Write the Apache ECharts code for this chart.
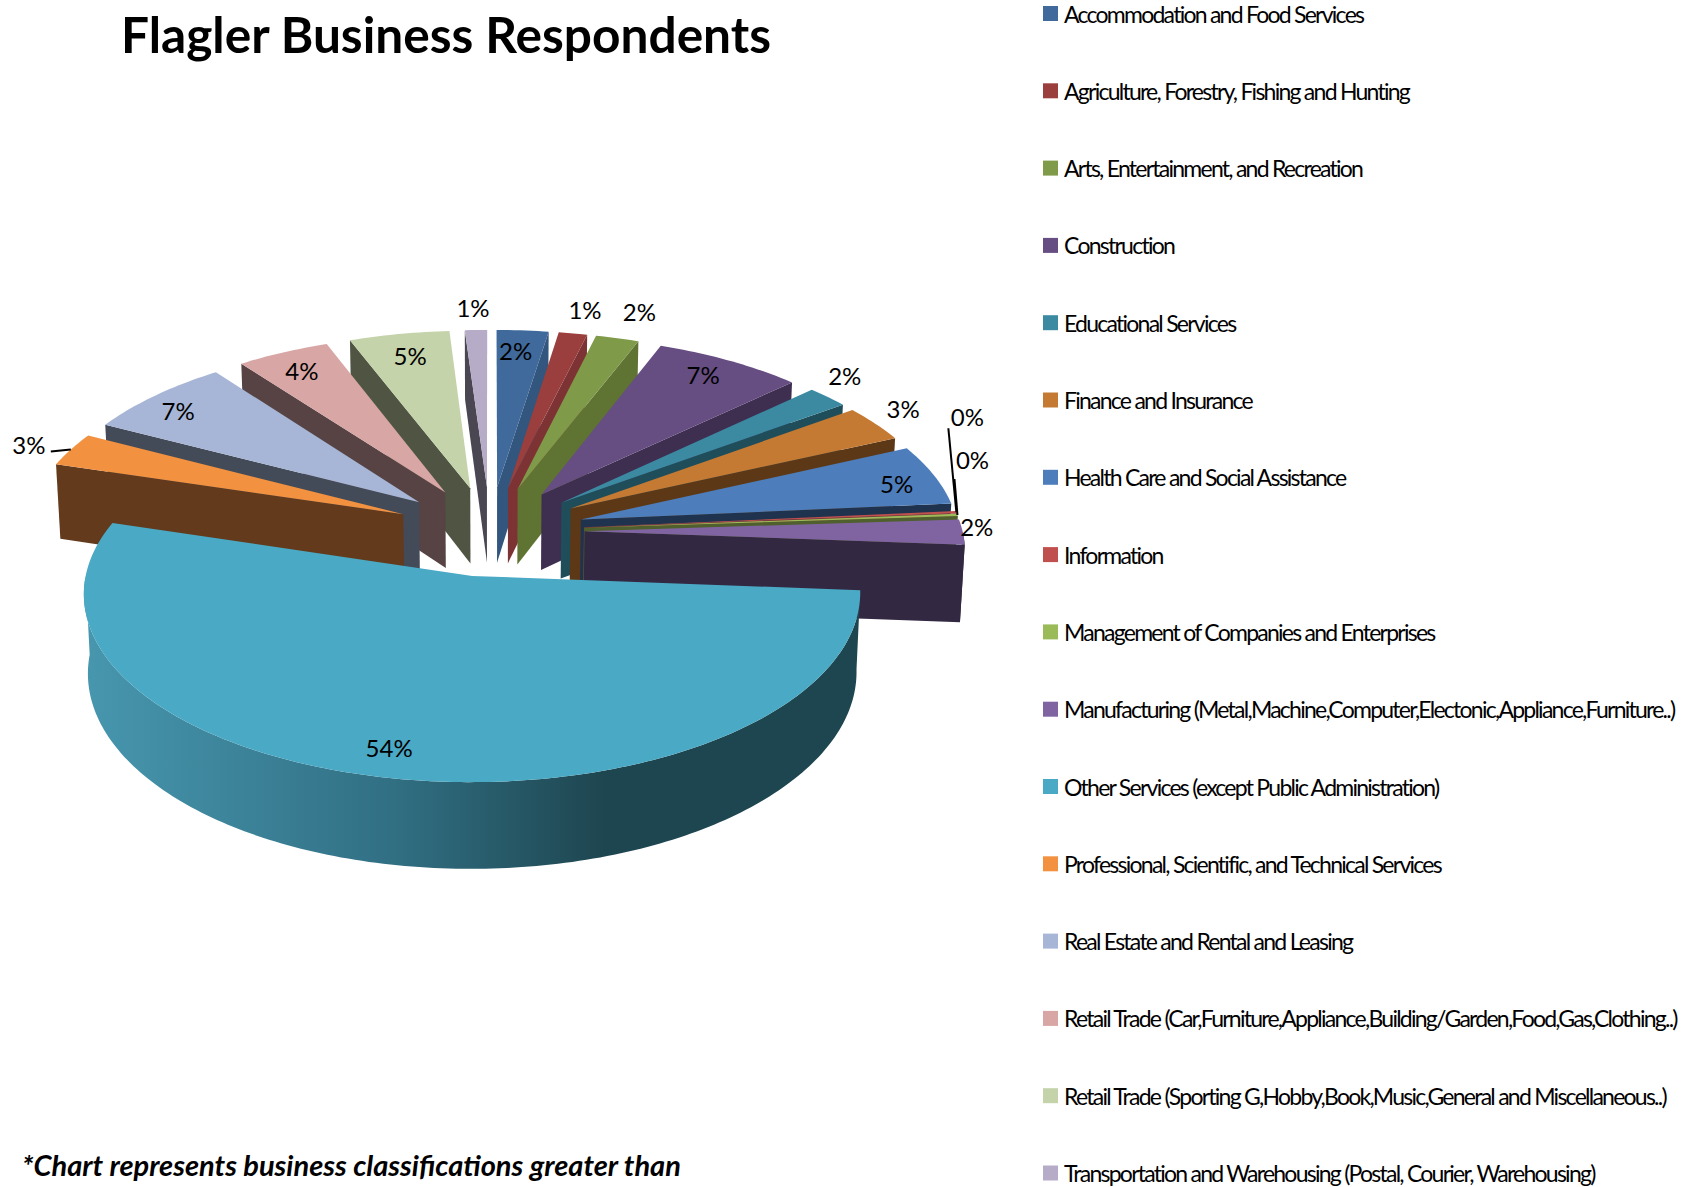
<!DOCTYPE html>
<html>
<head>
<meta charset="utf-8">
<title>Flagler Business Respondents</title>
<style>
  html, body { margin: 0; background: #fff; }
  #chart { width: 1696px; height: 1187px; }
  /* legend text is squeezed in the original */
  svg text[style*="23px"] { letter-spacing: -1.75px; }
</style>
<script src="https://cdn.jsdelivr.net/npm/echarts@6/dist/echarts.min.js"></script>
</head>
<body>
<div id="chart"></div>
<script>
var categories = [
  'Accommodation and Food Services',
  'Agriculture, Forestry, Fishing and Hunting',
  'Arts, Entertainment, and Recreation',
  'Construction',
  'Educational Services',
  'Finance and Insurance',
  'Health Care and Social Assistance',
  'Information',
  'Management of Companies and Enterprises',
  'Manufacturing (Metal,Machine,Computer,Electonic,Appliance,Furniture..)',
  'Other Services (except Public Administration)',
  'Professional, Scientific, and Technical Services',
  'Real Estate and Rental and Leasing',
  'Retail Trade (Car,Furniture,Appliance,Building/Garden,Food,Gas,Clothing..)',
  'Retail Trade (Sporting G,Hobby,Book,Music,General and Miscellaneous..)',
  'Transportation and Warehousing (Postal, Courier, Warehousing)'
];
// percent of respondents
var values = [2.45, 1.35, 2.05, 7.05, 2.0, 3.25, 5.4, 0.2, 0.2, 2.25, 53.5, 3.0, 7.1, 4.4, 4.75, 1.05];

var topColors = ['#3f6a9b', '#9a3f3d', '#7f9a48', '#664d82', '#3b8aa2', '#c57a34', '#4d7ebb', '#c0504d',
                 '#9bbb59', '#8064a2', '#4aa9c4', '#f29240', '#a7b6d6', '#d7a6a5', '#c4d3a9', '#b6acc7'];
var wallColors = ['#32567d', '#7d3333', '#5f7333', '#3e2e50', '#1f4d5a', '#5c3817', '#1f334f', '#7d3331',
                  '#4f5f2d', '#332842', '#1e4650', '#633a1c', '#434a58', '#574343', '#4f5542', '#4a4652'];
// painter's order, far slices first, big front slice last
var drawOrder = [1, 2, 3, 4, 5, 6, 7, 8, 9, 10, 16, 15, 14, 13, 12, 11];
// where each percent label goes, px away from the middle of the outer arc
var labelShift = [[-7, 20], [12, -24], [22, -27], [-27, 14], [17, -21], [28, -15], [-37, 9], [11, -96],
                  [15, -55], [14, -6], [-3, -31], [-42, -5], [23, 15], [19, 18], [11, 21], [-3, -22]];
// leader lines, from the outer arc towards the label
var leaderShift = {7: [-8, -84], 8: [-3, -36], 11: [-20, 2]};

// projection of the tilted pie
var cx = 490, cy = 531, radiusX = 378, radiusY = 179, persp = 0.09;
var explode = 0.25, depth = 77, shrink = 0.99;

var total = values.reduce(function (a, b) { return a + b; }, 0);
var angles = [];
values.reduce(function (sum, v) {
  angles.push([sum / total * 360, (sum + v) / total * 360]);
  return sum + v;
}, 0);

function rad(deg) { return deg * Math.PI / 180; }

// x,y on the pie plane (unit radius, y towards the viewer) to the screen
function project(x, y) {
  var s = 1 / (1 - persp * y);
  return [cx + x * radiusX * s, cy + y * radiusY * s];
}
function down(p, x, y) {
  var s = 1 / (1 - persp * y);
  return [cx + (p[0] - cx) * shrink, p[1] + depth * s];
}

function renderSlice(i, api) {
  var a0 = angles[i][0], a1 = angles[i][1], mid = (a0 + a1) / 2;
  var ox = explode * Math.sin(rad(mid)), oy = -explode * Math.cos(rad(mid));

  function rim(a, r) {
    return [ox + r * Math.sin(rad(a)), oy - r * Math.cos(rad(a))];
  }
  function top(a, r) { var q = rim(a, r); return project(q[0], q[1]); }
  function bottom(a, r) { var q = rim(a, r); return down(project(q[0], q[1]), q[0], q[1]); }

  var children = [];

  // radial wall: trailing edge on the right half, leading edge on the left half
  if (i !== 10) {
    var edge = mid < 180 ? a1 : a0;
    children.push({
      type: 'polygon',
      shape: { points: [top(edge, 0), top(edge, 1), bottom(edge, 1), bottom(edge, 0)] },
      style: { fill: wallColors[i] }
    });
  }

  // outer wall, only the part facing the viewer
  var w0 = Math.max(a0, 90), w1 = Math.min(a1, 270);
  if (w1 > w0) {
    var pts = [], a;
    for (a = w0; a < w1; a += 1) pts.push(top(a, 1));
    pts.push(top(w1, 1));
    for (a = w1; a > w0; a -= 1) pts.push(bottom(a, 1));
    pts.push(bottom(w0, 1));
    children.push({
      type: 'polygon',
      shape: { points: pts },
      style: {
        fill: i === 10 ? new echarts.graphic.LinearGradient(1, 0, 0, 0, [
          { offset: 0, color: '#1e4650' },
          { offset: 0.33, color: '#1e4650' },
          { offset: 0.6, color: '#316f83' },
          { offset: 1, color: '#4797af' }
        ]) : wallColors[i]
      }
    });
  }

  // top face
  var face = [top(a0, 0)];
  for (var b = a0; b < a1; b += 1) face.push(top(b, 1));
  face.push(top(a1, 1));
  children.push({ type: 'polygon', shape: { points: face }, style: { fill: topColors[i] } });

  // leader and label
  var anchor = top(mid, 1);
  if (leaderShift[i]) {
    children.push({
      type: 'line',
      shape: { x1: anchor[0], y1: anchor[1], x2: anchor[0] + leaderShift[i][0], y2: anchor[1] + leaderShift[i][1] },
      style: { stroke: '#000', lineWidth: 2 }
    });
  }
  children.push({
    type: 'text',
    z2: 50,
    style: {
      text: Math.round(api.value(0)) + '%',
      x: anchor[0] + labelShift[i][0],
      y: anchor[1] + labelShift[i][1],
      fill: '#000',
      fontFamily: 'Lato',
      fontSize: 24,
      textAlign: 'center',
      textVerticalAlign: 'middle'
    }
  });

  return { type: 'group', children: children };
}

var chart = echarts.init(document.getElementById('chart'), null, { renderer: 'svg' });

chart.setOption({
  backgroundColor: '#fff',
  animation: false,
  title: {
    text: 'Flagler Business Respondents',
    left: 116,
    top: 4,
    textStyle: { fontFamily: 'Lato', fontWeight: 'bold', fontSize: 49.6, color: '#000' }
  },
  legend: {
    orient: 'vertical',
    left: 1038,
    top: -3,
    height: 1400,
    icon: 'rect',
    itemWidth: 15,
    itemHeight: 15,
    itemGap: 54.3,
    selectedMode: false,
    data: categories,
    textStyle: { fontFamily: 'Lato', fontSize: 23, color: '#000', padding: [0, 0, 0, 1] }
  },
  graphic: [{
    type: 'text',
    left: 22,
    top: 1150,
    style: {
      text: '*Chart represents business classifications greater than',
      fontFamily: 'Lato',
      fontWeight: 'bold',
      fontStyle: 'italic',
      fontSize: 29,
      fill: '#000'
    }
  }],
  series: categories.map(function (name, i) {
    return {
      name: name,
      type: 'custom',
      coordinateSystem: 'none',
      z: drawOrder[i],
      silent: true,
      itemStyle: { color: topColors[i] },
      data: [[values[i]]],
      renderItem: function (params, api) {
        return renderSlice(i, api);
      }
    };
  })
});
</script>
</body>
</html>
